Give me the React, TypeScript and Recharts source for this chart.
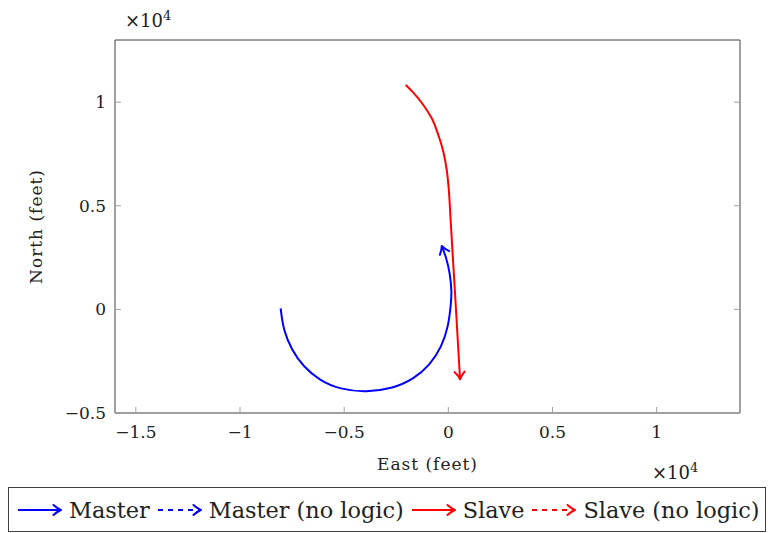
import { Line, LineChart, XAxis, YAxis } from 'recharts';

// Track positions, in feet
const masterEast = [
  -8050, -7920, -7517, -6960, -6158, -5198, -3950, -2640, -1680, -878, -317, 0, 130, 163, 82, -110, -317,
];
const masterNorth = [
  50, -994, -1959, -2765, -3441, -3856, -4001, -3808, -3373, -2683, -1800, -835, 294, 854, 1742, 2543, 3060,
];
const slaveEast = [-2045, -1680, -1200, -797, -480, -240, -77, 10, 110, 340, 562];
const slaveNorth = [10829, 10458, 9864, 9222, 8416, 7610, 6727, 5921, 4314, 454, -3373];

const xTicks = [-15000, -10000, -5000, 0, 5000, 10000];
const yTicks = [-5000, 0, 5000, 10000];
const xDomain = [-16000, 14000];
const yDomain = [-5000, 13000];

const legendNames = ['Master', 'Master (no logic)', 'Slave', 'Slave (no logic)'];
const legendColors = ['#0000ff', '#0000ff', '#ff0000', '#ff0000'];
const legendDashed = [false, true, false, true];

const toRows = (east: number[], north: number[]) => east.map((e, i) => ({ east: e, north: north[i] }));
const masterData = toRows(masterEast, masterNorth);
const slaveData = toRows(slaveEast, slaveNorth);

const FONT = '"DejaVu Serif", serif';
const FRAME = '#404040';
const TICK = '#a0a0a0';

const fmt = (v: number) => {
  const s = String(v / 10000);
  return s.startsWith('-') ? '\u2212' + s.slice(1) : s;
};

const ArrowHead = ({ x, y, angle, color }: { x: number; y: number; angle: number; color: string }) => (
  <path
    d="M -7.5 -5 Q -3 -1 0 0 Q -3 1 -7.5 5"
    transform={`translate(${x},${y}) rotate(${angle})`}
    stroke={color}
    strokeWidth={2}
    fill="none"
    strokeLinecap="round"
    strokeLinejoin="round"
  />
);

const arrowDot = (color: string, count: number) => {
  let prev: { x: number; y: number } | null = null;
  return (props: any) => {
    const { index, cx, cy, points } = props;
    let before = prev;
    if (points && points[index - 1]) before = { x: points[index - 1].x, y: points[index - 1].y };
    prev = { x: cx, y: cy };
    if (index !== count - 1 || !before) return <g key={`dot-${index}`} />;
    const angle = (Math.atan2(cy - before.y, cx - before.x) * 180) / Math.PI;
    return (
      <g key={`dot-${index}`}>
        <ArrowHead x={cx} y={cy} angle={angle} color={color} />
      </g>
    );
  };
};

const BottomTick = (p: any) => (
  <g>
    <line x1={p.x} y1={p.y} x2={p.x} y2={p.y - 6} stroke={TICK} />
    <text x={p.x} y={p.y + 25} textAnchor="middle" fontFamily={FONT} fontSize={17} fill="#222">
      {fmt(p.payload.value)}
    </text>
  </g>
);

const TopTick = (p: any) => <line x1={p.x} y1={p.y} x2={p.x} y2={p.y + 6} stroke={TICK} />;

const LeftTick = (p: any) => (
  <g>
    <line x1={p.x} y1={p.y} x2={p.x + 6} y2={p.y} stroke={TICK} />
    <text x={p.x - 9} y={p.y + 6} textAnchor="end" fontFamily={FONT} fontSize={17} fill="#222">
      {fmt(p.payload.value)}
    </text>
  </g>
);

const RightTick = (p: any) => <line x1={p.x} y1={p.y} x2={p.x - 6} y2={p.y} stroke={TICK} />;

const LegendArrow = ({ color, dashed }: { color: string; dashed: boolean }) => (
  <svg width={46} height={20} style={{ display: 'block' }}>
    <line x1={1} y1={10} x2={43} y2={10} stroke={color} strokeWidth={2.2} strokeDasharray={dashed ? '5 5' : undefined} />
    <ArrowHead x={44} y={10} angle={0} color={color} />
  </svg>
);

export default function App() {
  return (
    <div style={{ position: 'absolute', left: 0, top: 0, width: 768, height: 533, background: '#fff' }}>
      <LineChart width={768} height={533} margin={{ top: 39, right: 27, bottom: 119, left: 114 }}>
        <XAxis
          dataKey="east"
          type="number"
          domain={xDomain}
          ticks={xTicks}
          allowDataOverflow
          height={1}
          tickSize={0}
          tickMargin={0}
          tickLine={false}
          axisLine={{ stroke: FRAME }}
          tick={BottomTick}
        />
        <XAxis
          xAxisId="top"
          orientation="top"
          type="number"
          domain={xDomain}
          ticks={xTicks}
          allowDataOverflow
          height={1}
          tickSize={0}
          tickMargin={0}
          tickLine={false}
          axisLine={{ stroke: FRAME }}
          tick={TopTick}
        />
        <YAxis
          type="number"
          domain={yDomain}
          ticks={yTicks}
          allowDataOverflow
          width={1}
          tickSize={0}
          tickMargin={0}
          tickLine={false}
          axisLine={{ stroke: FRAME }}
          tick={LeftTick}
        />
        <YAxis
          yAxisId="right"
          orientation="right"
          type="number"
          domain={yDomain}
          ticks={yTicks}
          allowDataOverflow
          width={1}
          tickSize={0}
          tickMargin={0}
          tickLine={false}
          axisLine={{ stroke: FRAME }}
          tick={RightTick}
        />
        <Line
          data={masterData}
          dataKey="north"
          type="basis"
          stroke="#0000ff"
          strokeWidth={2}
          dot={arrowDot('#0000ff', masterData.length)}
          activeDot={false}
          isAnimationActive={false}
        />
        <Line
          data={slaveData}
          dataKey="north"
          type="monotoneY"
          stroke="#ff0000"
          strokeWidth={2}
          dot={arrowDot('#ff0000', slaveData.length)}
          activeDot={false}
          isAnimationActive={false}
        />
      </LineChart>

      <svg width={768} height={533} style={{ position: 'absolute', left: 0, top: 0, pointerEvents: 'none' }}>
        <g fontFamily={FONT} fill="#222">
          <text x={125} y={27} fontSize={18}>
            ×10<tspan dy={-7} fontSize={13}>4</tspan>
          </text>
          <text x={652} y={479} fontSize={18}>
            ×10<tspan dy={-7} fontSize={13}>4</tspan>
          </text>
          <text x={427.5} y={470} fontSize={17} letterSpacing={1} textAnchor="middle">
            East (feet)
          </text>
          <text x={42} y={226.5} fontSize={17} letterSpacing={1} textAnchor="middle" transform="rotate(-90 42 226.5)">
            North (feet)
          </text>
        </g>
      </svg>

      <div
        style={{
          position: 'absolute',
          left: 8,
          top: 487,
          width: 758,
          height: 45,
          boxSizing: 'border-box',
          border: `1px solid ${FRAME}`,
          display: 'flex',
          alignItems: 'center',
          paddingLeft: 8,
          fontFamily: FONT,
          fontSize: 22.4,
          color: '#222',
          whiteSpace: 'nowrap',
        }}
      >
        {legendNames.map((name, i) => (
          <div key={name} style={{ display: 'flex', alignItems: 'center', marginRight: 7 }}>
            <LegendArrow color={legendColors[i]} dashed={legendDashed[i]} />
            <span style={{ marginLeft: 6 }}>{name}</span>
          </div>
        ))}
      </div>
    </div>
  );
}
